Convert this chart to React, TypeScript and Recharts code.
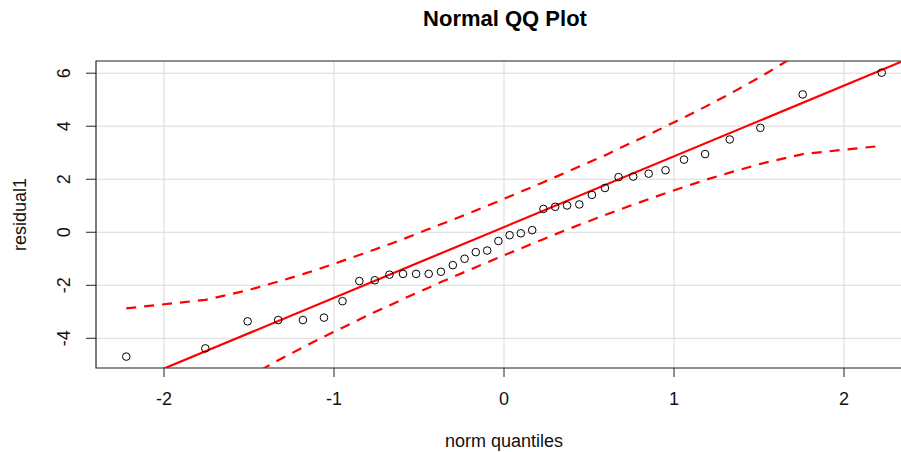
import React from "react";
import {
  ComposedChart,
  Line,
  Scatter,
  XAxis,
  YAxis,
  CartesianGrid,
  ReferenceArea,
} from "recharts";

// Theoretical normal quantiles (x) for the 38 residuals
const normQuantiles = [
  -2.222, -1.757, -1.508, -1.328, -1.183, -1.059, -0.95, -0.851, -0.76, -0.674,
  -0.594, -0.517, -0.443, -0.371, -0.301, -0.232, -0.166, -0.099, -0.033,
  0.033, 0.099, 0.166, 0.232, 0.301, 0.371, 0.443, 0.517, 0.594, 0.674, 0.76,
  0.851, 0.95, 1.059, 1.183, 1.328, 1.508, 1.757, 2.222,
];

// Sorted residuals (y)
const residual1 = [
  -4.69, -4.38, -3.36, -3.31, -3.31, -3.22, -2.6, -1.84, -1.81, -1.6, -1.57,
  -1.57, -1.57, -1.49, -1.24, -1.0, -0.75, -0.69, -0.33, -0.11, -0.04, 0.08,
  0.88, 0.96, 1.01, 1.05, 1.41, 1.67, 2.08, 2.1, 2.21, 2.34, 2.74, 2.95, 3.5,
  3.94, 5.2, 6.02,
];

// Upper / lower confidence envelope at each quantile
const upperBand = [
  -2.87, -2.55, -2.19, -1.86, -1.58, -1.32, -1.08, -0.86, -0.65, -0.45, -0.26,
  -0.07, 0.12, 0.3, 0.47, 0.65, 0.82, 1.0, 1.17, 1.35, 1.53, 1.71, 1.89, 2.08,
  2.28, 2.48, 2.69, 2.9, 3.15, 3.41, 3.68, 3.99, 4.33, 4.73, 5.22, 5.86, 6.82,
  8.98,
];
const lowerBand = [
  -8.59, -6.43, -5.47, -4.83, -4.34, -3.94, -3.6, -3.29, -3.01, -2.76, -2.52,
  -2.3, -2.09, -1.88, -1.69, -1.5, -1.32, -1.14, -0.96, -0.78, -0.61, -0.43,
  -0.26, -0.08, 0.1, 0.28, 0.46, 0.65, 0.84, 1.04, 1.25, 1.47, 1.71, 1.97,
  2.25, 2.58, 2.95, 3.26,
];

// Fitted reference line end points
const fitX = [-2.4, 2.4];
const fitY = [-6.207, 6.599];

const xTicks = [-2, -1, 0, 1, 2];
const yTicks = [-4, -2, 0, 2, 4, 6];
const xDomain: [number, number] = [-2.4, 2.4];
const yDomain: [number, number] = [-5.12, 6.46];

const rows = normQuantiles.map((z, i) => ({
  z,
  y: residual1[i],
  upper: upperBand[i],
  lower: lowerBand[i],
}));
const fitRows = fitX.map((z, i) => ({ z, fit: fitY[i] }));

const FONT = "'Liberation Sans', Arial, sans-serif";

const XTick = (props: any) => {
  const { x, y, payload } = props;
  return (
    <text x={x} y={y} dy={26} textAnchor="middle" fontSize={18} fontFamily={FONT} fill="#111">
      {payload.value}
    </text>
  );
};

const YTick = (props: any) => {
  const { x, y, payload } = props;
  const bx = x - 14;
  return (
    <text
      x={bx}
      y={y}
      transform={`rotate(-90, ${bx}, ${y})`}
      textAnchor="middle"
      fontSize={18}
      fontFamily={FONT}
      fill="#111"
    >
      {payload.value}
    </text>
  );
};

const Circle = (props: any) => {
  const { cx, cy } = props;
  return <circle cx={cx} cy={cy} r={3.8} fill="none" stroke="#000" strokeWidth={1} />;
};

export default function App() {
  return (
    <div
      style={{
        position: "absolute",
        left: 0,
        top: 0,
        width: 901,
        height: 452,
        overflow: "hidden",
        background: "#fff",
      }}
    >
      <svg
        width={901}
        height={40}
        style={{ position: "absolute", left: 0, top: 0, zIndex: 2 }}
      >
        <text
          x={505}
          y={26}
          textAnchor="middle"
          fontSize={22}
          fontWeight="bold"
          fontFamily={FONT}
          fill="#000"
        >
          Normal QQ Plot
        </text>
      </svg>
      <ComposedChart
        width={920}
        height={452}
        data={rows}
        margin={{ top: 61, right: 8, bottom: 0, left: 0 }}
      >
        <CartesianGrid stroke="#d9d9d9" strokeWidth={1} />
        <XAxis
          dataKey="z"
          type="number"
          domain={xDomain}
          ticks={xTicks}
          allowDataOverflow
          axisLine={false}
          tickLine={{ stroke: "#222" }}
          tickSize={9}
          tick={<XTick />}
          height={84}
          label={(p: any) => {
            const vb = p.viewBox || { x: 96, y: 368, width: 816 };
            return (
              <text
                x={vb.x + vb.width / 2}
                y={447}
                textAnchor="middle"
                fontSize={18}
                fontFamily={FONT}
                fill="#111"
              >
                norm quantiles
              </text>
            );
          }}
        />
        <YAxis
          type="number"
          domain={yDomain}
          ticks={yTicks}
          allowDataOverflow
          axisLine={false}
          tickLine={{ stroke: "#222" }}
          tickSize={10}
          tick={<YTick />}
          width={96}
          label={(p: any) => {
            const cy = 214.5;
            const cx = 25.5;
            return (
              <text
                x={cx}
                y={cy}
                transform={`rotate(-90, ${cx}, ${cy})`}
                textAnchor="middle"
                fontSize={18}
                fontFamily={FONT}
                fill="#111"
              >
                residual1
              </text>
            );
          }}
        />
        <ReferenceArea
          x1={xDomain[0]}
          x2={xDomain[1]}
          y1={yDomain[0]}
          y2={yDomain[1]}
          fill="none"
          fillOpacity={0}
          stroke="#333"
          strokeWidth={1.2}
        />
        <Line
          data={rows}
          dataKey="upper"
          type="linear"
          stroke="#ff0000"
          strokeWidth={2.2}
          strokeDasharray="10 8"
          dot={false}
          activeDot={false}
          isAnimationActive={false}
        />
        <Line
          data={rows}
          dataKey="lower"
          type="linear"
          stroke="#ff0000"
          strokeWidth={2.2}
          strokeDasharray="10 8"
          dot={false}
          activeDot={false}
          isAnimationActive={false}
        />
        <Line
          data={fitRows}
          dataKey="fit"
          type="linear"
          stroke="#ff0000"
          strokeWidth={2.2}
          dot={false}
          activeDot={false}
          isAnimationActive={false}
        />
        <Scatter
          data={rows}
          dataKey="y"
          shape={<Circle />}
          isAnimationActive={false}
        />
      </ComposedChart>
    </div>
  );
}
